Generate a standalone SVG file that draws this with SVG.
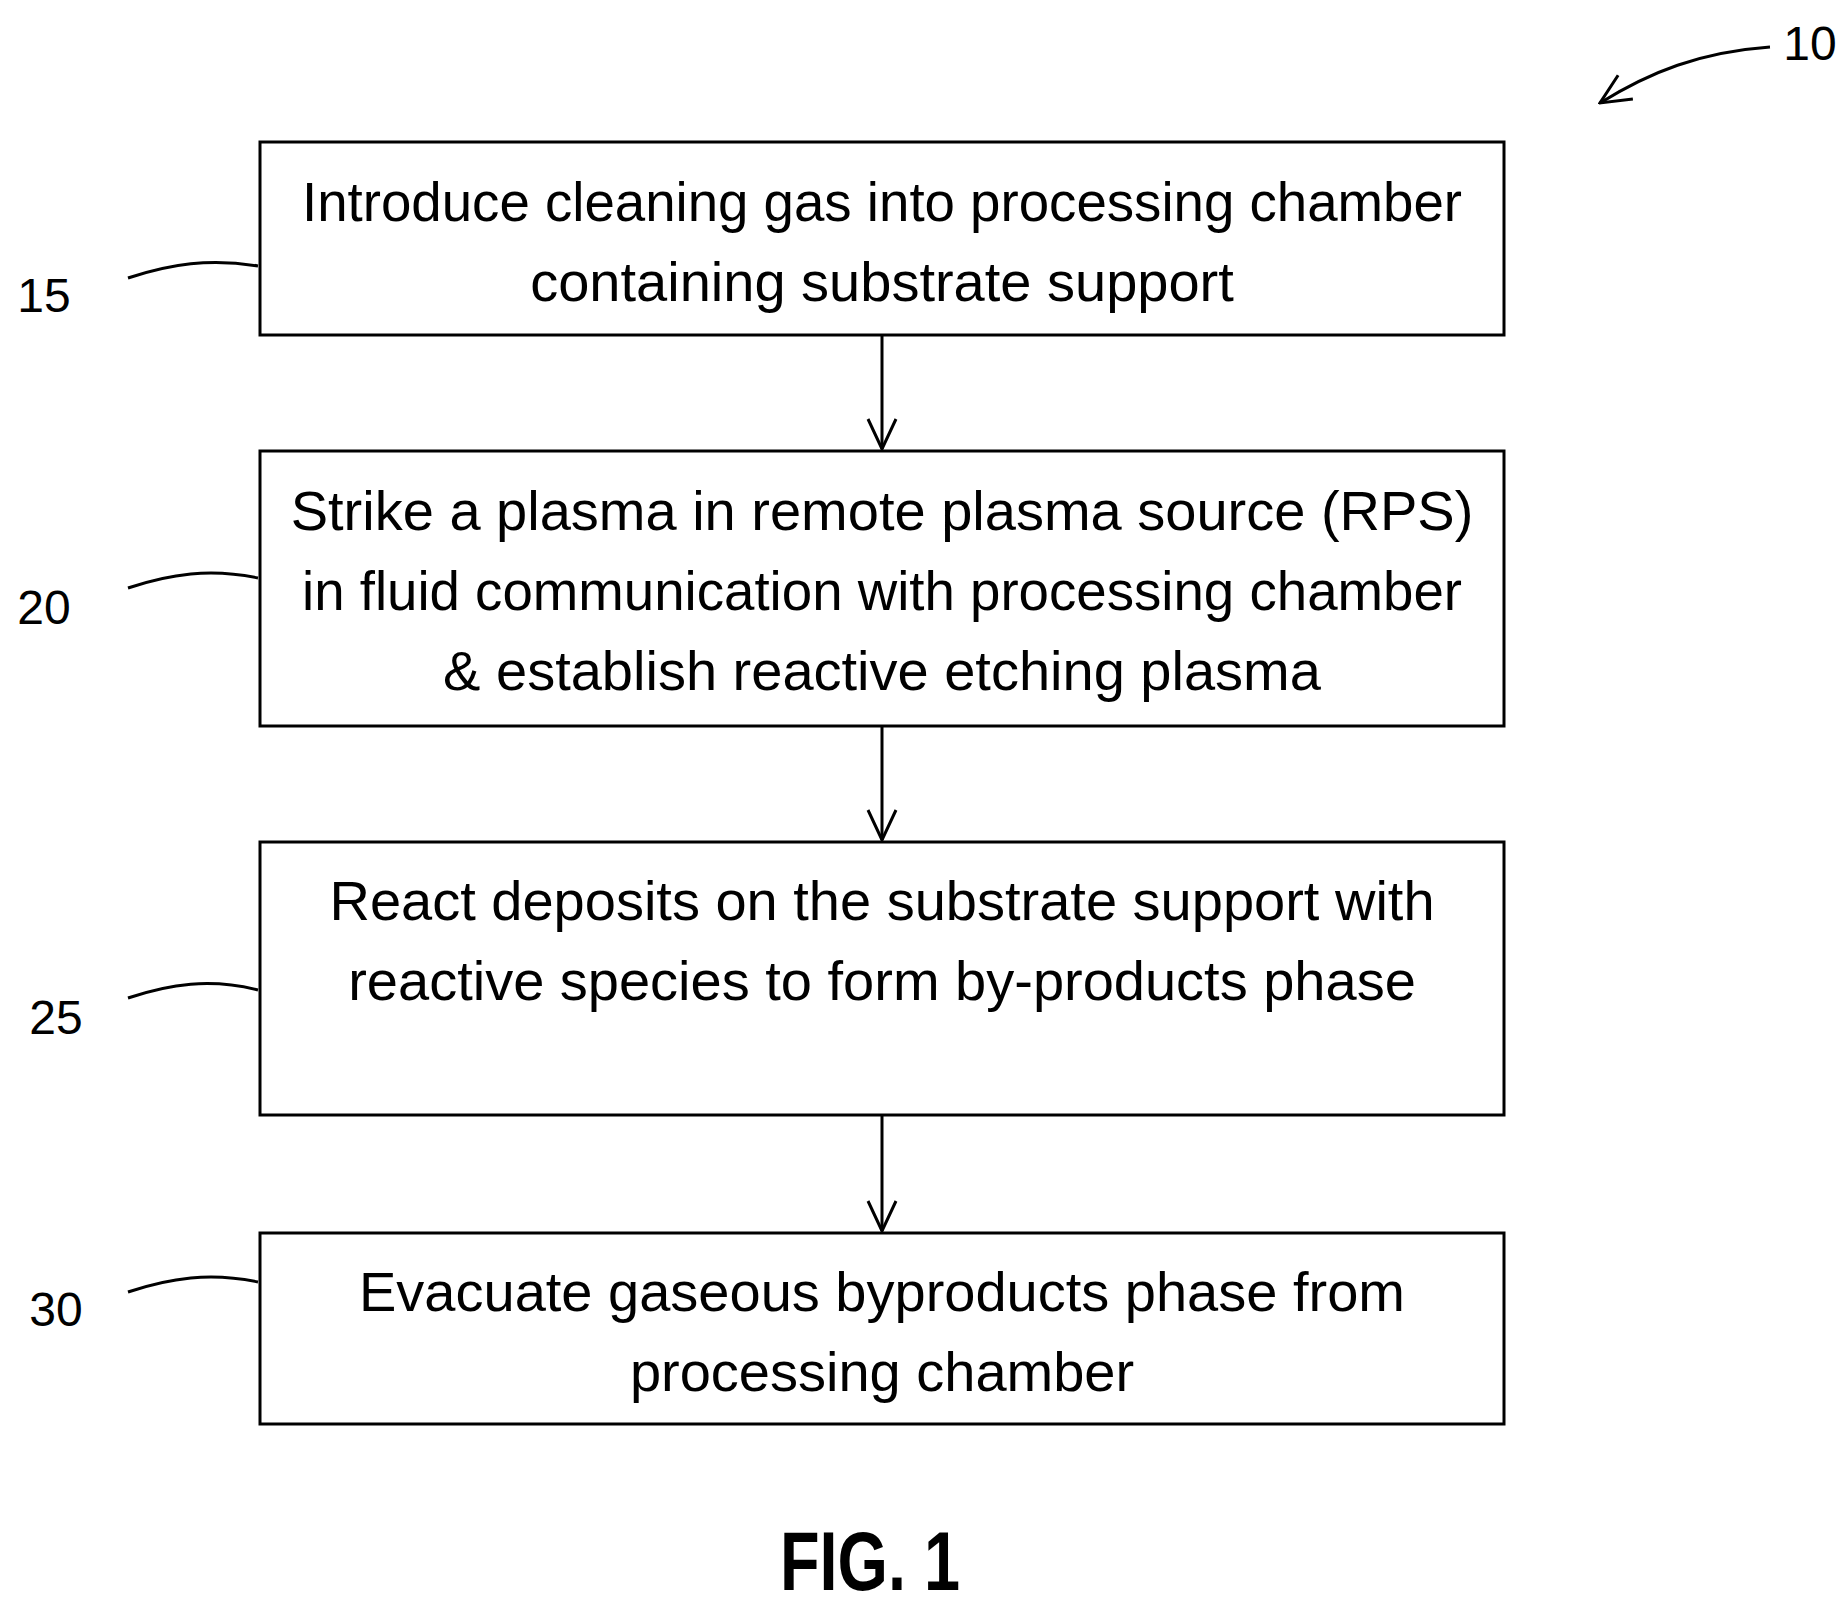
<svg xmlns="http://www.w3.org/2000/svg" width="1847" height="1606" viewBox="0 0 1847 1606">
<style>
.b{fill:#fff;stroke:#000;stroke-width:3}
.t{font-family:"Liberation Sans",Arial,sans-serif;font-size:56px;text-anchor:middle;fill:#000}
.l{font-family:"Liberation Sans",Arial,sans-serif;font-size:48px;text-anchor:middle;fill:#000}
.c{fill:none;stroke:#000;stroke-width:3}
</style>
<defs><marker id="a" markerWidth="36" markerHeight="36" refX="34" refY="18" orient="auto" markerUnits="userSpaceOnUse"><path d="M4,4 L34,18 L4,32" fill="none" stroke="#000" stroke-width="3"/></marker></defs>
<rect width="1847" height="1606" fill="#fff"/>
<g id="n15"><rect class="b" x="260" y="142" width="1244" height="193"/>
<text class="t" x="882" y="221" textLength="1160" lengthAdjust="spacingAndGlyphs">Introduce cleaning gas into processing chamber</text>
<text class="t" x="882" y="301">containing substrate support</text></g>
<g id="n20"><rect class="b" x="260" y="451" width="1244" height="275"/>
<text class="t" x="882" y="530">Strike a plasma in remote plasma source (RPS)</text>
<text class="t" x="882" y="610" textLength="1160" lengthAdjust="spacingAndGlyphs">in fluid communication with processing chamber</text>
<text class="t" x="882" y="690">&amp; establish reactive etching plasma</text></g>
<g id="n25"><rect class="b" x="260" y="842" width="1244" height="273"/>
<text class="t" x="882" y="920">React deposits on the substrate support with</text>
<text class="t" x="882" y="1000">reactive species to form by-products phase</text></g>
<g id="n30"><rect class="b" x="260" y="1233" width="1244" height="191"/>
<text class="t" x="882" y="1311">Evacuate gaseous byproducts phase from</text>
<text class="t" x="882" y="1391">processing chamber</text></g>
<g id="connectors">
<path class="c" d="M882,335 V449" marker-end="url(#a)"/>
<path class="c" d="M882,726 V840" marker-end="url(#a)"/>
<path class="c" d="M882,1115 V1231" marker-end="url(#a)"/>
<path class="c" d="M128,278 C170,264 210,258 258,266"/>
<path class="c" d="M128,588 C170,574 210,568 258,578"/>
<path class="c" d="M128,998 C170,984 210,978 258,990"/>
<path class="c" d="M128,1292 C170,1278 210,1272 258,1282"/>
<path class="c" d="M1770,47 C1700,52 1650,72 1600,103" marker-end="url(#a)"/>
</g>
<g id="labels">
<text class="l" x="44" y="312">15</text>
<text class="l" x="44" y="624">20</text>
<text class="l" x="56" y="1034">25</text>
<text class="l" x="56" y="1326">30</text>
<text class="l" x="1810" y="60">10</text>
<text x="870" y="1590" style="font-family:'Liberation Sans',Arial,sans-serif;font-size:84px;font-weight:bold;text-anchor:middle" textLength="180" lengthAdjust="spacingAndGlyphs">FIG. 1</text>
</g>
</svg>
